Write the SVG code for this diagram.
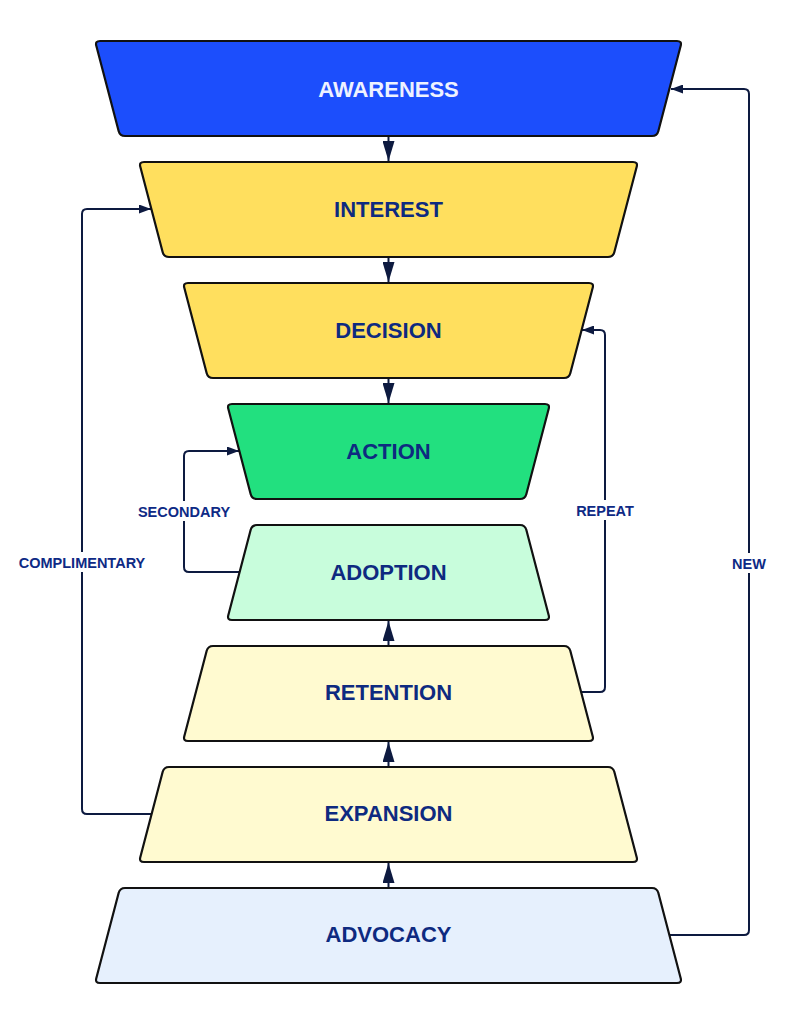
<svg xmlns="http://www.w3.org/2000/svg" width="791" height="1024" viewBox="0 0 791 1024">
<style>
.shape{stroke:#111111;stroke-width:2.2;stroke-linejoin:round}
.nt{font-family:"Liberation Sans",Arial,sans-serif;font-weight:bold;font-size:22px;fill:#0e2a80;text-anchor:middle}
.conn{fill:none;stroke:#0d1a40;stroke-width:2}
.lbl{font-family:"Liberation Sans",Arial,sans-serif;font-weight:bold;font-size:14.5px;fill:#0e2a85;text-anchor:middle}
.bg{fill:#ffffff}
</style>
<defs>
<marker id="big" markerUnits="userSpaceOnUse" viewBox="0 0 20 12" refX="20" refY="6" markerWidth="20" markerHeight="12" orient="auto">
<path d="M0,0 L20,6 L0,12 Z" fill="#0d1a40"/>
</marker>
<marker id="small" markerUnits="userSpaceOnUse" viewBox="0 0 12 9" refX="12" refY="4.5" markerWidth="12" markerHeight="9" orient="auto">
<path d="M0,0 L12,4.5 L0,9 Z" fill="#0d1a40"/>
</marker>
</defs>
<g id="connectors">
<line class="conn" x1="388.5" y1="137" x2="388.5" y2="161" marker-end="url(#big)"/>
<line class="conn" x1="388.5" y1="258" x2="388.5" y2="282" marker-end="url(#big)"/>
<line class="conn" x1="388.5" y1="379" x2="388.5" y2="403" marker-end="url(#big)"/>
<line class="conn" x1="388.5" y1="645" x2="388.5" y2="621" marker-end="url(#big)"/>
<line class="conn" x1="388.5" y1="766" x2="388.5" y2="742" marker-end="url(#big)"/>
<line class="conn" x1="388.5" y1="887" x2="388.5" y2="863" marker-end="url(#big)"/>
<path class="conn" d="M670,935 H744 Q749,935 749,930 V94 Q749,89 744,89 H671" marker-end="url(#small)"/>
<path class="conn" d="M581,692 H600 Q605,692 605,687 V335 Q605,330 600,330 H582" marker-end="url(#small)"/>
<path class="conn" d="M239,572 H189 Q184,572 184,567 V456 Q184,451 189,451 H239" marker-end="url(#small)"/>
<path class="conn" d="M151,814 H87 Q82,814 82,809 V214 Q82,209 87,209 H151" marker-end="url(#small)"/>
<rect class="bg" x="14" y="552" width="136" height="20"/>
<text class="lbl" x="82" y="567.5">COMPLIMENTARY</text>
<rect class="bg" x="136" y="501" width="96" height="20"/>
<text class="lbl" x="184" y="516.5">SECONDARY</text>
<rect class="bg" x="573" y="500" width="64" height="20"/>
<text class="lbl" x="605" y="515.5">REPEAT</text>
<rect class="bg" x="729" y="553" width="40" height="20"/>
<text class="lbl" x="749" y="568.5">NEW</text>
</g>
<g id="awareness">
<path class="shape" fill="#1c4efc" d="M100,41 H677 Q682,41 680.7,45.8 L658.3,131.2 Q657,136 652,136 H125 Q120,136 118.7,131.2 L96.3,45.8 Q95,41 100,41 Z"/>
<text class="nt" x="388.5" y="97" style="fill:#eef2ff">AWARENESS</text>
</g>
<g id="interest">
<path class="shape" fill="#ffdf5e" d="M144,162 H633 Q638,162 636.7,166.8 L614.3,252.2 Q613,257 608,257 H169 Q164,257 162.7,252.2 L140.3,166.8 Q139,162 144,162 Z"/>
<text class="nt" x="388.5" y="217">INTEREST</text>
</g>
<g id="decision">
<path class="shape" fill="#ffdf5e" d="M188,283 H589 Q594,283 592.7,287.8 L570.3,373.2 Q569,378 564,378 H213 Q208,378 206.7,373.2 L184.3,287.8 Q183,283 188,283 Z"/>
<text class="nt" x="388.5" y="338">DECISION</text>
</g>
<g id="action">
<path class="shape" fill="#22e07f" d="M232,404 H545 Q550,404 548.7,408.8 L526.3,494.2 Q525,499 520,499 H257 Q252,499 250.7,494.2 L228.3,408.8 Q227,404 232,404 Z"/>
<text class="nt" x="388.5" y="459">ACTION</text>
</g>
<g id="adoption">
<path class="shape" fill="#c8fddc" d="M257,525 H520 Q525,525 526.3,529.8 L548.7,615.2 Q550,620 545,620 H232 Q227,620 228.3,615.2 L250.7,529.8 Q252,525 257,525 Z"/>
<text class="nt" x="388.5" y="580">ADOPTION</text>
</g>
<g id="retention">
<path class="shape" fill="#fffad0" d="M213,646 H564 Q569,646 570.3,650.8 L592.7,736.2 Q594,741 589,741 H188 Q183,741 184.3,736.2 L206.7,650.8 Q208,646 213,646 Z"/>
<text class="nt" x="388.5" y="700">RETENTION</text>
</g>
<g id="expansion">
<path class="shape" fill="#fffad0" d="M169,767 H608 Q613,767 614.3,771.8 L636.7,857.2 Q638,862 633,862 H144 Q139,862 140.3,857.2 L162.7,771.8 Q164,767 169,767 Z"/>
<text class="nt" x="388.5" y="821">EXPANSION</text>
</g>
<g id="advocacy">
<path class="shape" fill="#e6f0fd" d="M125,888 H652 Q657,888 658.3,892.8 L680.7,978.2 Q682,983 677,983 H100 Q95,983 96.3,978.2 L118.7,892.8 Q120,888 125,888 Z"/>
<text class="nt" x="388.5" y="942">ADVOCACY</text>
</g>
</svg>
